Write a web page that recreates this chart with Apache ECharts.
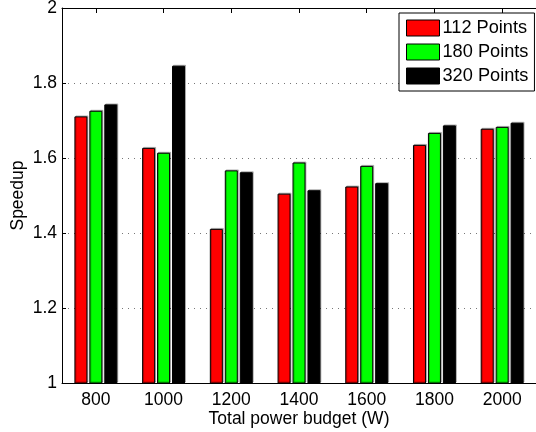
<!DOCTYPE html>
<html>
<head>
<meta charset="utf-8">
<script src="https://cdn.jsdelivr.net/npm/echarts@6/dist/echarts.min.js"></script>
<style>html,body{margin:0;padding:0;background:#fff}#c{width:536px;height:432px}</style>
</head>
<body>
<div id="c"></div>
<script>
const categories = ['800', '1000', '1200', '1400', '1600', '1800', '2000'];
const seriesNames = ['112 Points', '180 Points', '320 Points'];
const s112 = [1.711, 1.627, 1.411, 1.505, 1.524, 1.635, 1.678];
const s180 = [1.726, 1.614, 1.567, 1.588, 1.579, 1.667, 1.683];
const s320 = [1.743, 1.846, 1.562, 1.514, 1.533, 1.687, 1.694];
const colors = ['#ff0000', '#00ff00', '#000000'];

const FONT = 'Liberation Sans';
const FS = 17.5;
const chart = echarts.init(document.getElementById('c'), null, {renderer: 'canvas'});
const mkSeries = (name, data, color) => ({
  name, type: 'bar', data, xAxisIndex: 0, yAxisIndex: 0,
  barWidth: 13, barGap: '15%',
  itemStyle: {color, borderColor: '#000', borderWidth: 1,
    shadowColor: 'rgba(0,0,0,0.25)', shadowOffsetX: 1, shadowOffsetY: -1, shadowBlur: 0},
  emphasis: {disabled: true}
});
chart.setOption({
  animation: false,
  textStyle: {fontFamily: FONT},
  grid: {left: 62, right: 0, top: 8, bottom: 49, containLabel: false, outerBoundsMode: 'none'},
  legend: {
    data: seriesNames, orient: 'vertical', left: 399, top: 13,
    icon: 'rect',
    itemWidth: 33, itemHeight: 16, itemGap: 6,
    padding: [6, 6, 6, 7],
    borderColor: '#000', borderWidth: 1, backgroundColor: '#fff',
    textStyle: {fontFamily: FONT, fontSize: 18.2, color: '#000', padding: [0, 0, 0, -2]},
    itemStyle: {borderColor: '#000', borderWidth: 1, shadowBlur: 0, shadowOffsetX: 0, shadowOffsetY: 0}
  },
  xAxis: [{
    type: 'category', data: categories, position: 'bottom',
    name: 'Total power budget (W)', nameLocation: 'middle', nameGap: 27, nameMoveOverlap: false,
    nameTextStyle: {fontFamily: FONT, fontSize: FS, color: '#000'},
    axisLine: {lineStyle: {color: '#000', width: 1}},
    axisTick: {show: true, inside: true, alignWithLabel: true, length: 5, lineStyle: {color: '#000'}},
    axisLabel: {fontFamily: FONT, fontSize: FS, color: '#000', margin: 8},
    splitLine: {show: false}
  }, {
    type: 'category', data: categories, position: 'top',
    axisLine: {lineStyle: {color: '#000', width: 1}},
    axisTick: {show: true, inside: true, alignWithLabel: true, length: 5, lineStyle: {color: '#000'}},
    axisLabel: {show: false}, splitLine: {show: false}
  }],
  yAxis: [{
    type: 'value', min: 1, max: 2, interval: 0.2,
    name: 'Speedup', nameLocation: 'middle', nameGap: 35, nameMoveOverlap: false,
    nameTextStyle: {fontFamily: FONT, fontSize: FS, color: '#000'},
    axisLine: {show: true, lineStyle: {color: '#000', width: 1}},
    axisTick: {show: true, inside: true, length: 4, lineStyle: {color: '#000'}},
    axisLabel: {fontFamily: FONT, fontSize: FS, color: '#000', margin: 5,
      formatter: v => String(Math.round(v * 10) / 10)},
    splitLine: {show: true, lineStyle: {color: '#777', width: 1, type: [1, 5]}}
  }],
  series: [
    mkSeries(seriesNames[0], s112, colors[0]),
    mkSeries(seriesNames[1], s180, colors[1]),
    mkSeries(seriesNames[2], s320, colors[2])
  ]
});
</script>
</body>
</html>
